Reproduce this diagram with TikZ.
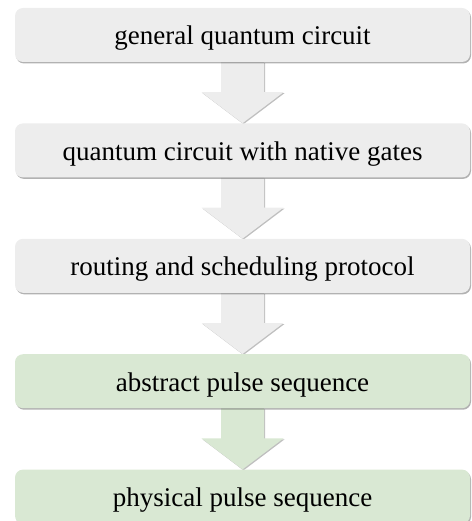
\documentclass[tikz,border=0pt]{standalone}
\usepackage{fontspec}
\setmainfont{Liberation Serif}
\usetikzlibrary{positioning, calc, shadows, backgrounds}
\definecolor{stagegray}{RGB}{237,237,237}
\definecolor{stagegreen}{RGB}{217,232,211}

\tikzset{
  stage/.style={rectangle, rounded corners=8pt, minimum width=455pt, minimum height=54pt,
    inner sep=0pt, text height=20pt, text depth=0pt, font=\fontsize{27}{30}\selectfont,
    drop shadow={shadow xshift=1pt, shadow yshift=-1.5pt, opacity=0.3, fill=black}},
  flow/.style={drop shadow={shadow xshift=1pt, shadow yshift=-1pt, opacity=0.25, fill=black}},
}

% block arrow from the bottom of one stage to the top of the next
\newcommand{\flowarrow}[3]{%
  \fill[#3, flow] ($(#1.south)+(-21.5pt,0)$) -- ($(#1.south)+(21.5pt,0)$)
    -- ($(#1.south)+(21.5pt,-30pt)$) -- ($(#1.south)+(41pt,-30pt)$)
    -- (#2.north) -- ($(#1.south)+(-41pt,-30pt)$)
    -- ($(#1.south)+(-21.5pt,-30pt)$) -- cycle;}

\begin{document}
\begin{tikzpicture}[x=1pt, y=1pt, node distance=61pt]
  \useasboundingbox (0,0) rectangle (471,-521);

  % stages
  \node[stage, fill=stagegray] (general) at (242.5,-35) {general quantum circuit};
  \node[stage, fill=stagegray, below=of general] (native) {quantum circuit with native gates};
  \node[stage, fill=stagegray, below=of native] (routing) {routing and scheduling protocol};
  \node[stage, fill=stagegreen, below=of routing] (abstract) {abstract pulse sequence};
  \node[stage, fill=stagegreen, below=of abstract] (physical) {physical pulse sequence};

  % arrows between stages
  \begin{scope}[on background layer]
    \flowarrow{general}{native}{stagegray}
    \flowarrow{native}{routing}{stagegray}
    \flowarrow{routing}{abstract}{stagegray}
    \flowarrow{abstract}{physical}{stagegreen}
  \end{scope}
\end{tikzpicture}
\end{document}
